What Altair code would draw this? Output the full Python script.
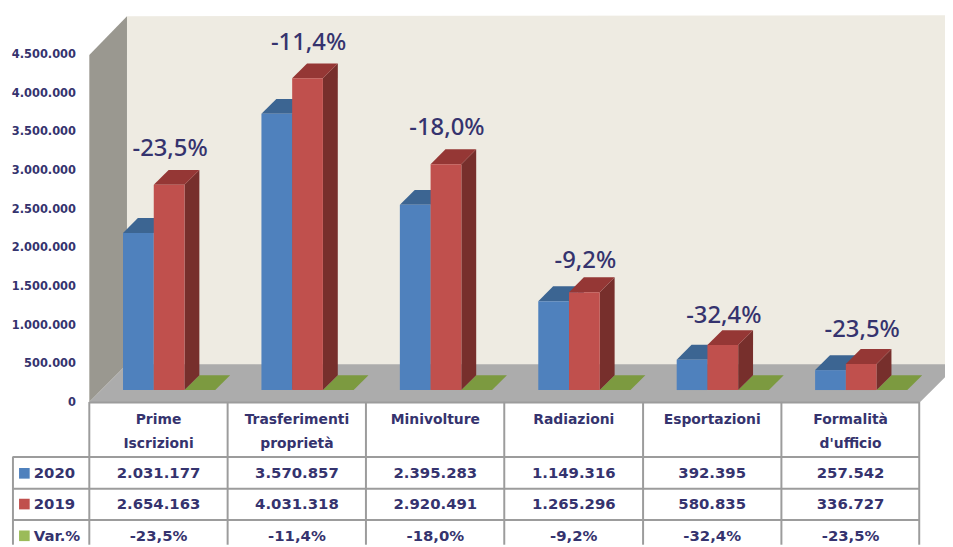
import altair as alt
import pandas as pd

# ---- values ----
categories = ["Prime\nIscrizioni", "Trasferimenti\nproprietà", "Minivolture",
              "Radiazioni", "Esportazioni", "Formalità\nd'ufficio"]
values_2020 = [2031177, 3570857, 2395283, 1149316, 392395, 257542]
values_2019 = [2654163, 4031318, 2920491, 1265296, 580835, 336727]
var_pct = [-23.5, -11.4, -18.0, -9.2, -32.4, -23.5]
axis_ticks = [0, 500000, 1000000, 1500000, 2000000, 2500000, 3000000, 3500000, 4000000, 4500000]

# ---- layout ----
W, H = 945, 539
PX_PER_UNIT = 78e-6
BASE_Y = 391
AXIS_Y = 403.5
COL_X0, COL_W = 90, 139.6
DEPTH = 15
BAR_W = 31
BAR_START = 34
LABEL_LIFT = [36, 35.6, 36.2, 31.3, 29.7, 34.7]
INK = "#35336e"
GRID = "#9c9c9c"

def cx(px):  # page x -> category units
    return (px - COL_X0) / COL_W

def vy(py):  # page y -> value units
    return (BASE_Y - py) / PX_PER_UNIT

X_DOM = [cx(8), cx(8 + W)]
Y_DOM = [vy(8 + H), vy(8)]
DX, DY = DEPTH / COL_W, DEPTH / PX_PER_UNIT
BW = BAR_W / COL_W
START = BAR_START / COL_W

x_scale = alt.Scale(domain=X_DOM, nice=False, zero=False)
y_scale = alt.Scale(domain=Y_DOM, nice=False, zero=False)

def X(f):
    return alt.X(f, type="quantitative", scale=x_scale, axis=None)

def Y(f):
    return alt.Y(f, type="quantitative", scale=y_scale, axis=None)

def X2(f):
    return alt.X2(f)

def Y2(f):
    return alt.Y2(f)

def vertical(rows, color):
    df = pd.DataFrame(rows, columns=["g", "x", "y", "y2"])
    return alt.Chart(df).mark_area(color=color, orient="vertical", opacity=1).encode(
        x=X("x"), y=Y("y"), y2=Y2("y2"), detail="g:N")

def horizontal(rows, color):
    df = pd.DataFrame(rows, columns=["g", "y", "x", "x2"])
    return alt.Chart(df).mark_area(color=color, orient="horizontal", opacity=1).encode(
        y=Y("y"), x=X("x"), x2=X2("x2"), detail="g:N")

# ---- walls and floor ----
left_wall = vertical([(0, cx(90), vy(53), vy(403)), (0, cx(128), vy(14), vy(365))], "#9a9890")
back_wall = vertical([(0, cx(128), vy(14), vy(366)), (0, cx(8 + W), vy(13), vy(366))], "#eeebe2")
floor = horizontal([(0, vy(365), cx(128), cx(953)),
                    (0, vy(378), cx(115), cx(953)),
                    (0, vy(403), cx(90), cx(928))], "#acacac")

# ---- 3D bars, all from the values ----
def bar3d(values, slot, front, top, side):
    side_rows, top_rows, front_rows = [], [], []
    for i, v in enumerate(values):
        x0 = i + START + slot * BW
        x1 = x0 + BW
        side_rows += [(i, x1, v, 0), (i, x1 + DX, v + DY, DY)]
        top_rows += [(i, v, x0, x1), (i, v + DY, x0 + DX, x1 + DX)]
        front_rows.append({"x": x0, "x2": x1, "y": v, "y2": 0})
    fr = alt.Chart(pd.DataFrame(front_rows)).mark_rect(color=front).encode(
        x=X("x"), x2=X2("x2"), y=Y("y"), y2=Y2("y2"))
    return [vertical(side_rows, side), horizontal(top_rows, top), fr]

# the Var.% series is on the same axis, so it lies flat on the floor
green_rows = []
for i, v in enumerate(var_pct):
    x0 = i + START + 2 * BW
    green_rows += [(i, v, x0, x0 + BW), (i, v + DY, x0 + DX, x0 + DX + BW)]
green = horizontal(green_rows, "#7c9a40")

blue = bar3d(values_2020, 0, "#4f81bd", "#3c6592", "#2f5078")
red = bar3d(values_2019, 1, "#c0504d", "#953735", "#772f2c")

# ---- percentage labels above the bars ----
pct = [f"{v:.1f}%".replace(".", ",") for v in var_pct]
lab = pd.DataFrame({
    "x": [i + START + 1.5 * BW + 1 / COL_W for i in range(6)],
    "y": [v + l / PX_PER_UNIT for v, l in zip(values_2019, LABEL_LIFT)],
    "t": pct,
})
labels = alt.Chart(lab).mark_text(font="Noto Sans", fontSize=24, fontWeight=500, color=INK).encode(
    x=X("x"), y=Y("y"), text="t:N")

# ---- table ----
COL_LINES = [90, 229.5, 369, 508.5, 648.5, 788, 927]
ROW_LINES = [403.5, 458.5, 490.5, 522]
h_rows = [{"x": cx(90), "x2": cx(927), "y": vy(403.5)}]
for py in ROW_LINES[1:]:
    h_rows.append({"x": cx(13), "x2": cx(927), "y": vy(py)})
h_rules = alt.Chart(pd.DataFrame(h_rows)).mark_rule(color=GRID, strokeWidth=2).encode(
    x=X("x"), x2=X2("x2"), y=Y("y"))
v_rows = [{"x": cx(p), "y": vy(403), "y2": vy(8 + H)} for p in COL_LINES]
v_rows.append({"x": cx(13), "y": vy(458), "y2": vy(8 + H)})
v_rules = alt.Chart(pd.DataFrame(v_rows)).mark_rule(color=GRID, strokeWidth=2).encode(
    x=X("x"), y=Y("y"), y2=Y2("y2"))
white = alt.Chart(pd.DataFrame({"x": [cx(90)], "x2": [cx(927)], "y": [vy(403)], "y2": [vy(8 + H)]})).mark_rect(
    color="#ffffff").encode(x=X("x"), x2=X2("x2"), y=Y("y"), y2=Y2("y2"))

cat_df = pd.DataFrame({"x": [i + 0.5 for i in range(6)], "y": [vy(414)] * 6, "t": categories})
cat_text = alt.Chart(cat_df).mark_text(font="DejaVu Sans", fontWeight="bold", fontSize=14, color=INK,
                                        baseline="top", lineBreak="\n", lineHeight=24).encode(
    x=X("x"), y=Y("y"), text="t:N")

def it(n):
    return f"{n:,}".replace(",", ".")

ROW_Y = {"2020": 475, "2019": 506, "Var.%": 538}
cells = []
for i in range(6):
    cells.append({"x": i + 0.5, "y": vy(ROW_Y["2020"]), "t": it(values_2020[i])})
    cells.append({"x": i + 0.5, "y": vy(ROW_Y["2019"]), "t": it(values_2019[i])})
    cells.append({"x": i + 0.5, "y": vy(ROW_Y["Var.%"]), "t": pct[i]})
cell_text = alt.Chart(pd.DataFrame(cells)).mark_text(font="DejaVu Sans", fontWeight="bold", fontSize=15,
                                                      color=INK).encode(x=X("x"), y=Y("y"), text="t:N")

row_df = pd.DataFrame({"x": [cx(34)] * 3, "y": [vy(p) for p in ROW_Y.values()], "t": list(ROW_Y.keys())})
row_text = alt.Chart(row_df).mark_text(font="DejaVu Sans", fontWeight="bold", fontSize=15, color=INK,
                                        align="left").encode(x=X("x"), y=Y("y"), text="t:N")
sw_df = pd.DataFrame({"x": [cx(24.5)] * 3, "y": [vy(p) for p in ROW_Y.values()],
                      "c": ["#4f81bd", "#c0504d", "#9bbb59"]})
swatches = alt.Chart(sw_df).mark_square(size=115, opacity=1).encode(
    x=X("x"), y=Y("y"), color=alt.Color("c:N", scale=None))

# ---- value axis: labels sit on the front edge of the floor ----
axis_df = pd.DataFrame({"v": axis_ticks})
axis_scale = alt.Scale(domain=[(AXIS_Y - (8 + H)) / PX_PER_UNIT, (AXIS_Y - 8) / PX_PER_UNIT], nice=False, zero=False)
axis_layer = alt.Chart(axis_df).mark_point(opacity=0).encode(
    x=alt.value(0),
    y=alt.Y("v:Q", scale=axis_scale, axis=alt.Axis(
        orient="left", values=axis_ticks, domain=False, ticks=False, grid=False, title=None,
        labelExpr="replace(format(datum.value, ',d'), /,/g, '.')",
        labelFont="DejaVu Sans", labelFontWeight="bold", labelFontSize=11.5, labelColor=INK,
        labelPadding=0, offset=-68)),
)

main = alt.layer(left_wall, back_wall, floor, green, *blue, *red, white, h_rules, v_rules,
                 labels, cat_text, cell_text, row_text, swatches)

chart = alt.layer(axis_layer, main).resolve_scale(y="independent").properties(
    width=W, height=H, padding=0,
    autosize=alt.AutoSizeParams(type="none"),
    background="#ffffff",
).configure_view(stroke=None)

chart.save("out.html", embed_options={"renderer": "svg", "actions": False})
